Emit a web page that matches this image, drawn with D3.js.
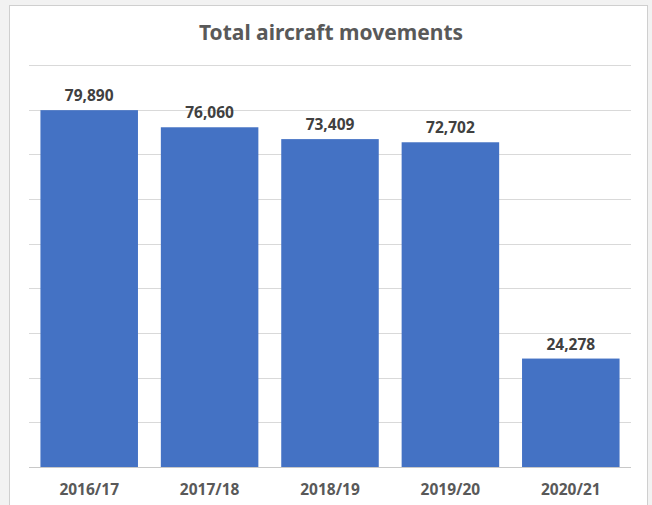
<!DOCTYPE html>
<html><head><meta charset="utf-8">
<script src="https://cdn.jsdelivr.net/npm/d3@7"></script>
<style>html,body{margin:0;padding:0;background:#f2f2f2;overflow:hidden}</style>
</head><body>
<svg id="c" width="652" height="505"></svg>
<script>
const categories = ["2016/17","2017/18","2018/19","2019/20","2020/21"];
const movements = [79890, 76060, 73409, 72702, 24278];
const yTicks = [0,10000,20000,30000,40000,50000,60000,70000,80000,90000];

const svg = d3.select("#c");
const font = "'Noto Sans', sans-serif";
svg.append("rect").attr("width",652).attr("height",505).attr("fill","#f2f2f2");
svg.append("rect").attr("x",9.5).attr("y",5.5).attr("width",638).attr("height",510)
  .attr("fill","#fff").attr("stroke","#cfcfcf");

const x = d3.scaleBand().domain(categories).range([29,631]).paddingInner(0.19).paddingOuter(0.095);
const y = d3.scaleLinear().domain([0,90000]).range([467,65]);

svg.append("g").selectAll("line").data(yTicks).join("line")
  .attr("x1",29).attr("x2",631).attr("y1",d=>Math.round(y(d))+0.5).attr("y2",d=>Math.round(y(d))+0.5)
  .attr("stroke",d=>d===0?"#c8c8c8":"#d9d9d9").attr("stroke-width",1);

svg.append("g").selectAll("rect").data(movements).join("rect")
  .attr("x",(d,i)=>x(categories[i])).attr("width",x.bandwidth())
  .attr("y",d=>y(d)).attr("height",d=>y(0)-y(d)).attr("fill","#4472c4");

svg.append("g").selectAll("text").data(movements).join("text")
  .attr("x",(d,i)=>x(categories[i])+x.bandwidth()/2).attr("y",d=>y(d)-9)
  .attr("text-anchor","middle").attr("font-family",font).attr("font-weight","bold")
  .attr("font-size","15.5px").attr("fill","#404040").text(d=>d3.format(",")(d));

const xAxis = svg.append("g").attr("transform","translate(0,467)")
  .call(d3.axisBottom(x).tickSize(0).tickPadding(17));
xAxis.select(".domain").remove();
xAxis.selectAll("text").attr("font-family",font).attr("font-weight","bold")
  .attr("font-size","15.5px").attr("fill","#595959");

svg.append("text").attr("x",331).attr("y",40).attr("text-anchor","middle")
  .attr("font-family",font).attr("font-weight","bold").attr("font-size","21px")
  .attr("fill","#595959").text("Total aircraft movements");
</script>
</body></html>
